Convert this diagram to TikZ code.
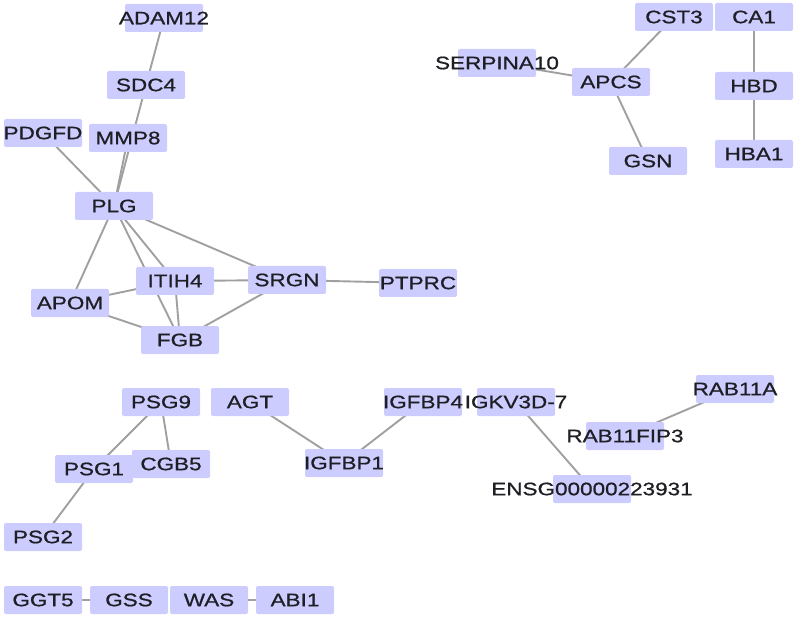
\documentclass[tikz,border=0pt]{standalone}
\usepackage{fontspec}
\setmainfont{Liberation Sans}[FakeStretch=1.25,FakeBold=0.8]
\usetikzlibrary{backgrounds}
\definecolor{genefill}{RGB}{204,204,255}
\definecolor{edgegray}{RGB}{160,160,160}
\definecolor{genetext}{RGB}{30,30,36}
\newcommand{\gene}[1]{\makebox[0pt]{#1}}

\begin{document}
\begin{tikzpicture}[x=1pt,y=-1pt]
  \tikzstyle{protein}=[rectangle,rounded corners=2pt,fill=genefill,minimum width=78pt,minimum height=28pt,inner sep=0pt,text=genetext,font=\fontsize{18}{20}\selectfont]
  \tikzstyle{link}=[draw=edgegray,line width=1.9pt]
  \useasboundingbox (0,0) rectangle (797,617);
  % PLG cluster
  \node[protein] (adam) at (164,18) {\gene{ADAM12}};
  \node[protein] (sdc) at (146,85) {\gene{SDC4}};
  \node[protein] (pdgfd) at (43,133) {\gene{PDGFD}};
  \node[protein] (mmp) at (128,138) {\gene{MMP8}};
  \node[protein] (plg) at (114,206) {\gene{PLG}};
  \node[protein] (itih) at (175,281) {\gene{ITIH4}};
  \node[protein] (srgn) at (287,280) {\gene{SRGN}};
  \node[protein] (ptprc) at (418,283) {\gene{PTPRC}};
  \node[protein] (apom) at (70,303) {\gene{APOM}};
  \node[protein] (fgb) at (180,340) {\gene{FGB}};
  % APCS cluster and haemoglobin
  \node[protein] (cst) at (674,17) {\gene{CST3}};
  \node[protein] (ca) at (754,17) {\gene{CA1}};
  \node[protein] (serp) at (497,63) {\gene{SERPINA10}};
  \node[protein] (apcs) at (611,82) {\gene{APCS}};
  \node[protein] (hbd) at (754,86) {\gene{HBD}};
  \node[protein] (gsn) at (648,161) {\gene{GSN}};
  \node[protein] (hba) at (754,154) {\gene{HBA1}};
  % small groups below
  \node[protein] (psgnine) at (161,402) {\gene{PSG9}};
  \node[protein] (agt) at (250,402) {\gene{AGT}};
  \node[protein] (psgone) at (94,469) {\gene{PSG1}};
  \node[protein] (cgb) at (171,464) {\gene{CGB5}};
  \node[protein] (psgtwo) at (43,537) {\gene{PSG2}};
  \node[protein] (igfbpfour) at (423,402) {\gene{IGFBP4}};
  \node[protein] (igkv) at (516,402) {\gene{IGKV3D-7}};
  \node[protein] (igfbpone) at (344,463) {\gene{IGFBP1}};
  \node[protein] (rabfip) at (625,436) {\gene{RAB11FIP3}};
  \node[protein] (ensg) at (592,489) {\gene{ENSG00000223931}};
  \node[protein] (raba) at (735,389) {\gene{RAB11A}};
  \node[protein] (ggt) at (43,600) {\gene{GGT5}};
  \node[protein] (gss) at (129,600) {\gene{GSS}};
  \node[protein] (was) at (209,600) {\gene{WAS}};
  \node[protein] (abi) at (295,600) {\gene{ABI1}};
  \begin{pgfonlayer}{background}
    \foreach \a/\b in {adam/sdc,sdc/plg,mmp/plg,pdgfd/plg,plg/apom,plg/itih,plg/fgb,plg/srgn,
      itih/apom,itih/srgn,itih/fgb,apom/fgb,srgn/fgb,srgn/ptprc,
      serp/apcs,apcs/cst,apcs/gsn,ca/hbd,hbd/hba,
      psgnine/psgone,psgnine/cgb,psgone/psgtwo,agt/igfbpone,igfbpone/igfbpfour,
      igkv/ensg,rabfip/raba,ggt/gss,was/abi}
      \draw[link] (\a.center) -- (\b.center);
  \end{pgfonlayer}
\end{tikzpicture}
\end{document}
